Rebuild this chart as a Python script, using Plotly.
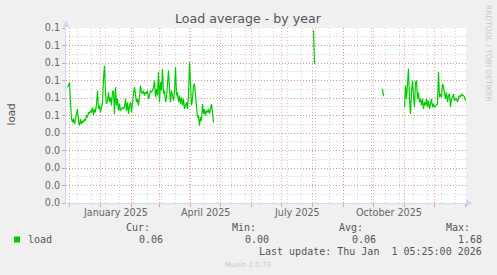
import pandas as pd
import plotly.graph_objects as go

# ---------------- data ----------------
seg1_start = "2024-11-29"
seg1_values = [
    0.0662, 0.0681, 0.0687, 0.0576, 0.0480, 0.0461, 0.0484, 0.0451, 0.0480, 0.0518,
    0.0537, 0.0470, 0.0442, 0.0480, 0.0451, 0.0470, 0.0461, 0.0480, 0.0470, 0.0503,
    0.0489, 0.0518, 0.0509, 0.0528, 0.0518, 0.0547, 0.0503, 0.0537, 0.0518, 0.0566,
    0.0643, 0.0537, 0.0557, 0.0518, 0.0547, 0.0576, 0.0710, 0.0786, 0.0633, 0.0566,
    0.0585, 0.0633, 0.0576, 0.0604, 0.0557, 0.0633, 0.0643, 0.0509, 0.0662, 0.0557,
    0.0595, 0.0528, 0.0566, 0.0528, 0.0537, 0.0547, 0.0537, 0.0547, 0.0595, 0.0528,
    0.0576, 0.0509, 0.0557, 0.0576, 0.0518, 0.0595, 0.0624, 0.0662, 0.0614, 0.0576,
    0.0595, 0.0557, 0.0604, 0.0671, 0.0633, 0.0624, 0.0643, 0.0614, 0.0633, 0.0624,
    0.0643, 0.0595, 0.0614, 0.0643, 0.0633, 0.0643, 0.0662, 0.0700, 0.0604, 0.0652,
    0.0614, 0.0748, 0.0576, 0.0691, 0.0643, 0.0767, 0.0624, 0.0643, 0.0576, 0.0604,
    0.0681, 0.0758, 0.0652, 0.0576, 0.0643, 0.0614, 0.0585, 0.0633, 0.0777, 0.0614,
    0.0633, 0.0576, 0.0614, 0.0566, 0.0604, 0.0557, 0.0595, 0.0537, 0.0557, 0.0576,
    0.0537, 0.0614, 0.0806, 0.0633, 0.0557, 0.0595, 0.0671, 0.0681, 0.0614, 0.0557,
    0.0489, 0.0499, 0.0442, 0.0489, 0.0470, 0.0566, 0.0509, 0.0537, 0.0499, 0.0528,
    0.0518, 0.0537, 0.0509, 0.0537, 0.0566, 0.0518, 0.0461,
]
seg2_start = "2025-08-02"
seg2_values = [0.0987, 0.0796]
seg3_start = "2025-10-10"
seg3_values = [0.0652, 0.0610]
seg4_start = "2025-11-01"
seg4_values = [
    0.0547, 0.0671, 0.0595, 0.0710, 0.0767, 0.0595, 0.0509, 0.0633, 0.0700, 0.0614,
    0.0547, 0.0691, 0.0700, 0.0595, 0.0633, 0.0576, 0.0595, 0.0557, 0.0595, 0.0537,
    0.0576, 0.0557, 0.0595, 0.0547, 0.0585, 0.0537, 0.0576, 0.0595, 0.0547, 0.0566,
    0.0547, 0.0557, 0.0560, 0.0566, 0.0748, 0.0604, 0.0624, 0.0604, 0.0681, 0.0662,
    0.0614, 0.0595, 0.0633, 0.0576, 0.0614, 0.0624, 0.0547, 0.0595, 0.0604, 0.0624,
    0.0585, 0.0595, 0.0595, 0.0576, 0.0604, 0.0614, 0.0604, 0.0624, 0.0614, 0.0614,
    0.0604, 0.0585,
]

y_tickvals = [0.00, 0.01, 0.02, 0.03, 0.04, 0.05, 0.06, 0.07, 0.08, 0.09, 0.10]
y_ticktext = ["0.0", "0.0", "0.0", "0.0", "0.0", "0.1", "0.1", "0.1", "0.1", "0.1", "0.1"]
x_label_dates = ["2025-01-16", "2025-04-16", "2025-07-16", "2025-10-16"]
x_label_text = ["January 2025", "April 2025", "July 2025", "October 2025"]
month_starts = pd.date_range("2024-12-01", "2026-01-01", freq="MS")

legend_name = "load"
stat_names = ["Cur:", "Min:", "Avg:", "Max:"]
stat_values = ["0.06", "0.00", "0.06", "1.68"]
last_update = "Last update: Thu Jan  1 05:25:00 2026"

# ---------------- build series ----------------
xs, ys = [], []
for start, vals in [(seg1_start, seg1_values), (seg2_start, seg2_values),
                    (seg3_start, seg3_values), (seg4_start, seg4_values)]:
    d = pd.date_range(start, periods=len(vals), freq="D")
    xs += list(d) + [d[-1] + pd.Timedelta(days=1)]
    ys += list(vals) + [None]

W, H = 497, 275
L, R, T, B = 66, 466, 28, 203


def px(x):
    return (x - L) / (R - L)


def py(y):
    return (B - y) / (B - T)


FONT = "DejaVu Sans"
MONO = "DejaVu Sans Mono"
FONT_COLOR = "#666666"
TEXT_COLOR = "#555555"
AXIS = "#CFD6F8"
MGRID = "rgba(230,90,90,0.55)"
GRID = "rgba(150,150,150,0.45)"

fig = go.Figure()
fig.add_trace(go.Scatter(x=xs, y=ys, mode="lines", connectgaps=False,
                         line=dict(color="#00CC00", width=1.2),
                         showlegend=False, hoverinfo="skip"))

fig.update_layout(
    width=W, height=H,
    margin=dict(l=L, r=W - R, t=T, b=H - B, pad=0),
    paper_bgcolor="#F0F0F0", plot_bgcolor="#FFFFFF",
    showlegend=False,
    font=dict(family=FONT, size=9.6, color=FONT_COLOR),
)

fig.update_xaxes(
    type="date",
    range=["2024-11-27 12:00", "2026-01-01 12:00"],
    tickvals=list(month_starts), ticktext=[""] * len(month_starts),
    ticks="outside", ticklen=3, tickcolor=MGRID, tickwidth=1,
    showgrid=True, gridcolor=MGRID, griddash="1px,2px", gridwidth=1,
    minor=dict(dtick=14 * 86400000, tick0="2024-12-09", showgrid=True,
               gridcolor=GRID, griddash="1px,2px", gridwidth=1, ticks=""),
    showline=True, linecolor=AXIS, linewidth=1, zeroline=False,
    fixedrange=True,
)
fig.update_yaxes(
    range=[0, 0.1],
    tickvals=y_tickvals, ticktext=y_ticktext,
    ticks="outside", ticklen=3, tickcolor=MGRID, tickwidth=1,
    tickfont=dict(family=FONT, size=9.6, color=FONT_COLOR),
    showgrid=True, gridcolor=MGRID, griddash="1px,2px", gridwidth=1,
    minor=dict(dtick=0.005, showgrid=True, gridcolor=GRID,
               griddash="1px,2px", gridwidth=1, ticks=""),
    showline=True, linecolor=AXIS, linewidth=1, zeroline=False,
    fixedrange=True,
)

ann = []
# title
ann.append(dict(text="Load average - by year", x=px(248.5), y=py(18.5), xref="paper", yref="paper",
                showarrow=False, xanchor="center", yanchor="middle",
                font=dict(family=FONT, size=12.6, color=TEXT_COLOR)))
# y axis title
ann.append(dict(text="load", x=px(10.5), y=py(114), xref="paper", yref="paper",
                showarrow=False, xanchor="center", yanchor="middle", textangle=-90,
                font=dict(family=FONT, size=10.4, color=TEXT_COLOR)))
# right watermark
ann.append(dict(text="RRDTOOL / TOBI OETIKER", x=px(488.5), y=py(53.5), xref="paper", yref="paper",
                showarrow=False, xanchor="center", yanchor="middle", textangle=90,
                font=dict(family=FONT, size=7.5, color="#C8C8C8")))
# x labels
for d, t in zip(x_label_dates, x_label_text):
    ann.append(dict(text=t, x=d, y=py(212), xref="x", yref="paper",
                    showarrow=False, xanchor="center", yanchor="middle",
                    font=dict(family=FONT, size=9.6, color=FONT_COLOR)))
# legend block
hdr_right = [150.5, 257, 363.5, 471]
val_right = [163.5, 270, 376.5, 483]
for name, xr in zip(stat_names, hdr_right):
    ann.append(dict(text=name, x=px(xr), y=py(227.5), xref="paper", yref="paper",
                    showarrow=False, xanchor="right", yanchor="middle", borderpad=0,
                    font=dict(family=MONO, size=10, color=TEXT_COLOR)))
for v, xr in zip(stat_values, val_right):
    ann.append(dict(text=v, x=px(xr), y=py(239.5), xref="paper", yref="paper",
                    showarrow=False, xanchor="right", yanchor="middle", borderpad=0,
                    font=dict(family=MONO, size=10, color=TEXT_COLOR)))
ann.append(dict(text=legend_name, x=px(26.5), y=py(239.5), xref="paper", yref="paper",
                showarrow=False, xanchor="left", yanchor="middle", borderpad=0,
                font=dict(family=MONO, size=10, color=TEXT_COLOR)))
ann.append(dict(text=last_update, x=px(483), y=py(251.5), xref="paper", yref="paper",
                showarrow=False, xanchor="right", yanchor="middle", borderpad=0,
                font=dict(family=MONO, size=10, color=TEXT_COLOR)))
ann.append(dict(text="Munin 2.0.73", x=px(248), y=py(264.5), xref="paper", yref="paper",
                showarrow=False, xanchor="center", yanchor="middle",
                font=dict(family=FONT, size=7, color="#C8C8C8")))
fig.update_layout(annotations=ann)

shapes = []
# legend colour box
shapes.append(dict(type="rect", xref="paper", yref="paper",
                   x0=px(14), x1=px(20), y0=py(242.5), y1=py(236.5),
                   fillcolor="#00CC00", line=dict(width=0)))
# axis arrows
shapes.append(dict(type="path", xref="paper", yref="paper",
                   path=f"M {px(62.5)} {py(27)} L {px(69.5)} {py(27)} L {px(66)} {py(20.5)} Z",
                   fillcolor=AXIS, line=dict(width=0)))
shapes.append(dict(type="path", xref="paper", yref="paper",
                   path=f"M {px(466)} {py(199.5)} L {px(466)} {py(206.5)} L {px(472.5)} {py(203)} Z",
                   fillcolor=AXIS, line=dict(width=0)))
fig.update_layout(shapes=shapes)

fig.write_html("out.html")
